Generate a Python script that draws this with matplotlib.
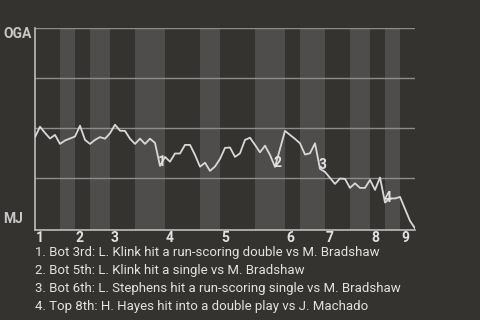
import numpy as np
import matplotlib
matplotlib.use("Agg")
import matplotlib.pyplot as plt
import matplotlib.transforms as mtransforms

# win probability (OGA side) after each plate appearance
wp = [0.456, 0.508, 0.477, 0.449, 0.467, 0.422, 0.439, 0.449, 0.459, 0.513,
      0.442, 0.422, 0.442, 0.456, 0.448, 0.475, 0.518, 0.488, 0.487, 0.448,
      0.422, 0.448, 0.422, 0.448, 0.427, 0.312, 0.357, 0.333, 0.374, 0.374,
      0.417, 0.417, 0.367, 0.308, 0.328, 0.287, 0.309, 0.347, 0.402, 0.404,
      0.357, 0.375, 0.442, 0.453, 0.417, 0.380, 0.413, 0.367, 0.307, 0.397,
      0.487, 0.467, 0.447, 0.425, 0.369, 0.375, 0.425, 0.297, 0.282, 0.252,
      0.222, 0.249, 0.247, 0.202, 0.225, 0.202, 0.202, 0.242, 0.192, 0.254,
      0.129, 0.150, 0.149, 0.157, 0.097, 0.037, 0.0]

# plate appearance index where each half inning ends (top 1st, bot 1st, ...)
half_ends = [0, 5, 8, 11, 15, 20, 26, 33, 37, 44, 50, 53, 58, 63, 67, 70, 73, 76]
innings = ["1", "2", "3", "4", "5", "6", "7", "8", "9"]

event_idx = [25, 48, 57, 70]
event_num = ["1", "2", "3", "4"]
event_txt = [
    "1. Bot 3rd: L. Klink hit a run-scoring double vs M. Bradshaw",
    "2. Bot 5th: L. Klink hit a single vs M. Bradshaw",
    "3. Bot 6th: L. Stephens hit a run-scoring single vs M. Bradshaw",
    "4. Top 8th: H. Hayes hit into a double play vs J. Machado",
]
team_top = "OGA"
team_bot = "MJ"

bg = "#353330"
band = "#4e4d4b"
fg = "#e2e2e2"
font = ["Roboto", "DejaVu Sans"]

fig = plt.figure(figsize=(4.8, 3.2), dpi=100, facecolor=bg)
ax = fig.add_axes([35 / 480, 1 - 230 / 320, 380 / 480, 201.7 / 320])
ax.set_facecolor(bg)

x = np.arange(len(wp))
ax.set_xlim(0, half_ends[-1])
ax.set_ylim(-0.0085, 1)

# shaded bottom halves
for i in range(1, len(half_ends) - 1, 2):
    ax.axvspan(half_ends[i], half_ends[i + 1], color=band, lw=0, zorder=0)

for g in [0.25, 0.5, 0.75, 1.0]:
    ax.axhline(g, color="#8c8c8c", lw=1, zorder=1)

ax.plot(x, wp, color="#d8d8d8", lw=1.3, zorder=3)

for k, n in zip(event_idx, event_num):
    ax.annotate(n, (x[k], wp[k]), xytext=(1.5, 3), textcoords="offset points",
                ha="center", va="center", color=fg, fontsize=10,
                fontweight="bold", family=font, zorder=4)

for s in ["top", "right"]:
    ax.spines[s].set_visible(False)
for s in ["left", "bottom"]:
    ax.spines[s].set_color("#bdbdbd")
    ax.spines[s].set_linewidth(1.2)

ax.set_yticks([])
ax.set_xticks(half_ends[0:-1:2])
ax.set_xticklabels(innings, ha="left", color=fg, fontsize=10,
                   fontweight="bold", family=font)
ax.tick_params(axis="x", length=0, pad=1)
offset = mtransforms.ScaledTranslation(1 / 100, 0, fig.dpi_scale_trans)
for lab in ax.get_xticklabels():
    lab.set_transform(lab.get_transform() + offset)

fig.text(3 / 480, 1 - 34 / 320, team_top, color="#c8c8c8", fontsize=10,
         fontweight="bold", family=font, va="center", ha="left")
fig.text(3 / 480, 1 - 219 / 320, team_bot, color="#c8c8c8", fontsize=10,
         fontweight="bold", family=font, va="center", ha="left")

for i, t in enumerate(event_txt):
    y = 252.3 + i * 18.1
    fig.text(35 / 480, 1 - y / 320, t, color=fg, fontsize=9.5,
             family=font, va="center", ha="left")

fig.savefig("out.png", dpi=100, facecolor=bg)
